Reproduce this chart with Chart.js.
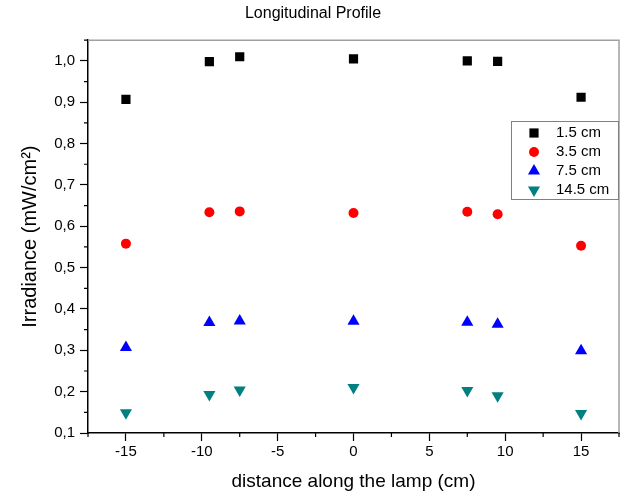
<!DOCTYPE html>
<html>
<head>
<meta charset="utf-8">
<script src="https://cdn.jsdelivr.net/npm/chart.js"></script>
<style>
  body { margin: 0; background: #fff; }
  canvas { display: block; }
</style>
</head>
<body>
<canvas id="chart" width="626" height="496"></canvas>
<script>
// distance along the lamp (cm)
const distances = [-15, -9.5, -7.5, 0, 7.5, 9.5, 15];
// irradiance (mW/cm2) at each height
const irr15 = [0.907, 0.998, 1.010, 1.005, 1.000, 0.999, 0.912];
const irr35 = [0.558, 0.634, 0.636, 0.632, 0.635, 0.629, 0.553];
const irr75 = [0.307, 0.367, 0.371, 0.370, 0.368, 0.363, 0.299];
const irr145 = [0.149, 0.193, 0.204, 0.210, 0.203, 0.190, 0.147];
const seriesNames = ["1.5 cm", "3.5 cm", "7.5 cm", "14.5 cm"];

// tick labels
const xTicks = [-15, -10, -5, 0, 5, 10, 15];
const yTicks = [0.1, 0.2, 0.3, 0.4, 0.5, 0.6, 0.7, 0.8, 0.9, 1.0];
const xMinor = [-17.5, -12.5, -7.5, -2.5, 2.5, 7.5, 12.5, 17.5];
const yMinor = [0.15, 0.25, 0.35, 0.45, 0.55, 0.65, 0.75, 0.85, 0.95, 1.05];

const FONT = "'Liberation Sans', Arial, sans-serif";

const toPoints = vals => vals.map((v, i) => ({ x: distances[i], y: v }));

const series = [
  { label: seriesNames[0], data: toPoints(irr15), color: "#000000", style: "rect", radius: 6.5, rotation: 0 },
  { label: seriesNames[1], data: toPoints(irr35), color: "#ff0000", style: "circle", radius: 5, rotation: 0 },
  { label: seriesNames[2], data: toPoints(irr75), color: "#0000ff", style: "triangle", radius: 7, rotation: 0 },
  { label: seriesNames[3], data: toPoints(irr145), color: "#008080", style: "triangle", radius: 7, rotation: 180 }
];

// minor ticks, grey top/right frame, and the boxed legend
const frameAndLegend = {
  id: "frameAndLegend",
  afterDraw(chart) {
    const ctx = chart.ctx;
    const a = chart.chartArea;
    const xs = chart.scales.x, ys = chart.scales.y;
    ctx.save();
    // grey frame top and right
    ctx.strokeStyle = "#a0a0a0";
    ctx.lineWidth = 1.5;
    ctx.beginPath();
    ctx.moveTo(a.left, a.top);
    ctx.lineTo(a.right, a.top);
    ctx.lineTo(a.right, a.bottom);
    ctx.stroke();

    // minor ticks
    ctx.strokeStyle = "#000";
    ctx.lineWidth = 1.2;
    ctx.beginPath();
    xMinor.forEach(v => {
      const px = xs.getPixelForValue(v);
      ctx.moveTo(px, a.bottom);
      ctx.lineTo(px, a.bottom + 4);
    });
    yMinor.forEach(v => {
      const py = ys.getPixelForValue(v);
      ctx.moveTo(a.left, py);
      ctx.lineTo(a.left - 4, py);
    });
    ctx.stroke();

    // legend box
    const lx = 511, ly = 121, lw = 107, lh = 78;
    ctx.fillStyle = "#fff";
    ctx.fillRect(lx, ly, lw, lh);
    ctx.strokeStyle = "#808080";
    ctx.lineWidth = 1;
    ctx.strokeRect(lx + 0.5, ly + 0.5, lw, lh);
    ctx.font = "15px " + FONT;
    ctx.textBaseline = "middle";
    chart.data.datasets.forEach((ds, i) => {
      const cy = ly + 12 + i * 19;
      ctx.fillStyle = ds.pointBackgroundColor;
      Chart.helpers.drawPoint(ctx, {
        pointStyle: ds.pointStyle,
        radius: ds.pointRadius,
        rotation: ds.pointRotation,
        borderWidth: 0
      }, lx + 23, cy);
      ctx.fillStyle = "#000";
      ctx.fillText(ds.label, lx + 45, cy);
    });
    ctx.restore();
  }
};

new Chart(document.getElementById("chart"), {
  type: "scatter",
  data: {
    datasets: series.map(s => ({
      label: s.label,
      data: s.data,
      pointStyle: s.style,
      pointRadius: s.radius,
      pointHoverRadius: s.radius,
      pointRotation: s.rotation,
      pointBackgroundColor: s.color,
      pointBorderColor: s.color,
      pointBorderWidth: 0,
      showLine: false
    }))
  },
  options: {
    responsive: false,
    animation: false,
    layout: { padding: { left: 0, right: 0, top: 0, bottom: 0 } },
    plugins: {
      legend: { display: false },
      tooltip: { enabled: false },
      title: {
        display: true,
        text: "Longitudinal Profile",
        color: "#000",
        font: { family: FONT, size: 16, weight: "normal" },
        padding: { top: 4, bottom: 17 }
      }
    },
    scales: {
      x: {
        type: "linear",
        min: -17.5,
        max: 17.5,
        afterBuildTicks: s => { s.ticks = xTicks.map(v => ({ value: v })); },
        afterFit: s => { s.height = 63; },
        border: { color: "#000", width: 1.5 },
        grid: { drawOnChartArea: false, tickLength: 8, tickColor: "#000", tickWidth: 1.2 },
        ticks: {
          color: "#000",
          padding: 2,
          maxRotation: 0,
          autoSkip: false,
          font: { family: FONT, size: 15 },
          callback: v => String(v)
        },
        title: {
          display: true,
          text: "distance along the lamp (cm)",
          color: "#000",
          font: { family: FONT, size: 19 },
          padding: { top: 0, bottom: 3 }
        }
      },
      y: {
        min: 0.1,
        max: 1.05,
        afterBuildTicks: s => { s.ticks = yTicks.map(v => ({ value: v })); },
        afterFit: s => { s.width = 88; },
        border: { color: "#000", width: 1.5 },
        grid: { drawOnChartArea: false, tickLength: 8, tickColor: "#000", tickWidth: 1.2 },
        ticks: {
          color: "#000",
          padding: 5,
          autoSkip: false,
          font: { family: FONT, size: 15 },
          callback: v => v.toFixed(1).replace(".", ",")
        },
        title: {
          display: true,
          text: "Irradiance (mW/cm²)",
          color: "#000",
          font: { family: FONT, size: 20 },
          padding: { top: 18, bottom: 0 }
        }
      }
    }
  },
  plugins: [frameAndLegend]
});
</script>
</body>
</html>
